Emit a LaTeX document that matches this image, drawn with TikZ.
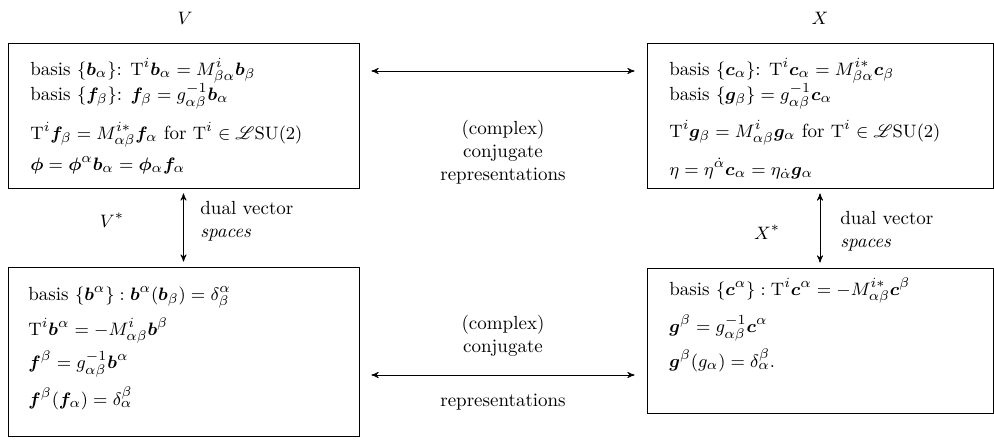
\documentclass[tikz,border=0pt]{standalone}
\usepackage{amsmath}
\usepackage{amssymb}
\usepackage{bm}
\usepackage{mathrsfs}
\usetikzlibrary{arrows}

\begin{document}
\begin{tikzpicture}[x=0.5pt,y=-0.5pt,>=stealth',
	every node/.style={font=\fontsize{9.5}{11.5}\selectfont},
	box/.style={draw=black,rectangle,inner sep=0pt},
	row/.style={anchor=base west,inner sep=0pt},
	lab/.style={align=center,inner sep=0pt},
	dual/.style={<->,shorten <=6pt,shorten >=6pt}]
\useasboundingbox (0,0) rectangle (994,439);
% the four boxes
\node[box,minimum width=175.5pt,minimum height=72.5pt] (tl) at (183.5,115.5) {};
\node[box,minimum width=173pt,minimum height=72.5pt] (tr) at (820,115.5) {};
\node[box,minimum width=175.5pt,minimum height=84.5pt] (bl) at (183.5,351.5) {};
\node[box,minimum width=173pt,minimum height=72.5pt] (br) at (820,340.5) {};
% space names
\node[lab] (V) at (185,18) {$V$};
\node[lab] (X) at (820,18) {$X$};
\node[lab] (Vs) at (112,220) {$V^*$};
\node[lab] (Xs) at (767,232) {$X^*$};
% V
\node[row] (tl1) at (30,75) {basis $\{\bm b_\alpha\}$: $\mathrm T^i\bm b_\alpha = M^i_{\beta\alpha}\bm b_\beta$};
\node[row] (tl2) at (30,100) {basis $\{\bm f_\beta\}$: $\bm f_\beta = g^{-1}_{\alpha\beta}\bm b_\alpha$};
\node[row] (tl3) at (30,139) {$\mathrm T^i\bm f_\beta = M^{i*}_{\alpha\beta}\bm f_\alpha$ for $\mathrm T^i\in\mathscr L\mathrm{SU}(2)$};
\node[row] (tl4) at (30,170) {$\bm\phi = \bm\phi^\alpha\bm b_\alpha = \bm\phi_\alpha\bm f_\alpha$};
% X
\node[row] (tr1) at (669,75) {basis $\{\bm c_\alpha\}$: $\mathrm T^i\bm c_\alpha = M^{i*}_{\beta\alpha}\bm c_\beta$};
\node[row] (tr2) at (669,100) {basis $\{\bm g_\beta\} = g^{-1}_{\alpha\beta}\bm c_\alpha$};
\node[row] (tr3) at (669,137) {$\mathrm T^i\bm g_\beta = M^i_{\alpha\beta}\bm g_\alpha$ for $\mathrm T^i\in\mathscr L\mathrm{SU}(2)$};
\node[row] (tr4) at (669,175) {$\eta = \eta^{\dot\alpha}\bm c_\alpha = \eta_{\dot\alpha}\bm g_\alpha$};
% V*
\node[row] (bl1) at (28,300) {basis $\{\bm b^\alpha\}: \bm b^\alpha(\bm b_\beta) = \delta^\alpha_\beta$};
\node[row] (bl2) at (28,335) {$\mathrm T^i\bm b^\alpha = -M^i_{\alpha\beta}\bm b^\beta$};
\node[row] (bl3) at (28,368) {$\bm f^\beta = g^{-1}_{\alpha\beta}\bm b^\alpha$};
\node[row] (bl4) at (28,405) {$\bm f^\beta(\bm f_\alpha) = \delta^\beta_\alpha$};
% X*
\node[row] (br1) at (669,295) {basis $\{\bm c^\alpha\}: \mathrm T^i\bm c^\alpha = -M^{i*}_{\alpha\beta}\bm c^\beta$};
\node[row] (br2) at (669,332) {$\bm g^\beta = g^{-1}_{\alpha\beta}\bm c^\alpha$};
\node[row] (br3) at (669,367) {$\bm g^\beta(g_\alpha) = \delta^\beta_\alpha.$};
% arrow labels
\node[lab] (cj1) at (503,152) {(complex)\\conjugate\\representations};
\node[lab] (cj2) at (503,336) {(complex)\\conjugate};
\node[lab] (cj3) at (503,402) {representations};
\node[lab,align=left,anchor=west] (dv1) at (200,221) {dual vector\\\textit{spaces}};
\node[lab,align=left,anchor=west] (dv2) at (840,231) {dual vector\\\textit{spaces}};
% connectors
\coordinate (tm) at (503,71);
\coordinate (bm) at (503,375);
\draw[dual] (tl.east |- tm) -- (tr.west |- tm);
\draw[dual] (bl.east |- bm) -- (br.west |- bm);
\draw[<->,shorten <=2.5pt,shorten >=2.5pt] (tl.south) -- (bl.north);
\draw[<->,shorten <=2.5pt,shorten >=2.5pt] (tr.south) -- (br.north);
\end{tikzpicture}
\end{document}
